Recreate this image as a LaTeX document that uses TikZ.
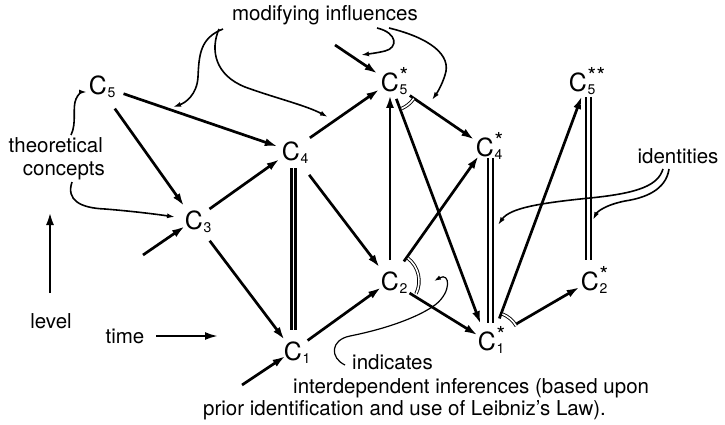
\documentclass[tikz,border=0pt]{standalone}
\usepackage{fontspec}
\setmainfont{TeX Gyre Heros}
\usetikzlibrary{arrows.meta,calc}
\newcommand\Cn[2]{C\rlap{\kern0.5pt\raisebox{-3.5pt}[0pt][0pt]{\fontsize{14}{14}\selectfont #1}}\rlap{\kern0.5pt\raisebox{8pt}[0pt][0pt]{\fontsize{22}{22}\selectfont #2}}}
\begin{document}
\begin{tikzpicture}[x=1pt,y=1pt,
  cn/.style={inner sep=0pt, font=\fontsize{25}{25}\selectfont},
  txt/.style={inner sep=0pt, font=\fontsize{20.5}{24}\selectfont},
  arr/.style={line width=2.7pt, -{Latex[length=13pt,width=8pt]}},
  note/.style={line width=1.6pt, -{Latex[length=8pt,width=5pt]}},
  idd/.style={double, line width=1.9pt, double distance=2.5pt},
  iddthick/.style={double, line width=3pt, double distance=1pt},
  arcd/.style={double, line width=0.9pt, double distance=1.6pt},
]
\useasboundingbox (0,0) rectangle (725,-425);
\fill[white] (0,0) rectangle (725,-425);

% concept nodes
\node[cn] (C5)   at (98,-85)  {\Cn{5}{}};
\node[cn] (C4)   at (291,-151) {\Cn{4}{}};
\node[cn] (C3)   at (194,-220) {\Cn{3}{}};
\node[cn] (C1)   at (293,-351) {\Cn{1}{}};
\node[cn] (C2)   at (390,-281) {\Cn{2}{}};
\node[cn] (C5s)  at (390,-82)  {\Cn{5}{*}};
\node[cn] (C4s)  at (485,-147) {\Cn{4}{*}};
\node[cn] (C1s)  at (487,-341) {\Cn{1}{*}};
\node[cn] (C2s)  at (590,-281) {\Cn{2}{*}};
\node[cn] (C5ss) at (578,-82)  {\Cn{5}{*\kern0.5pt*}};

% text
\node[txt, anchor=base] (mi) at (325,-21) {modifying influences};
\node[txt, anchor=base east] (tc1) at (103,-153) {theoretical};
\node[txt, anchor=base east] (tc2) at (105,-175) {concepts};
\node[txt, anchor=base] (idn) at (678,-163) {identities};
\node[txt, anchor=base] (lvl) at (51,-328) {level};
\node[txt, anchor=base] (tm) at (125,-343) {time};
\node[txt, anchor=base west] (ind) at (352,-369) {indicates};
\node[txt, anchor=base west] (ind2) at (293,-393) {interdependent inferences (based upon};
\node[txt, anchor=base west] (ind3) at (203,-415) {prior identification and use of Leibniz’s Law).};

% identities
\draw[iddthick] ($(C4)+(2,-17)$) -- ($(C1)+(0,21)$);
\draw[idd] ($(C4s)+(5.5,-11)$) -- ($(C1s)+(3.5,18)$);
\draw[idd] ($(C5ss)+(10.5,-15)$) -- ($(C2s)+(-1.5,21)$);

% inferences
\draw[arr, shorten <=27pt, shorten >=14pt] (C5.center) -- (C4.center);
\draw[arr, shorten <=29pt, shorten >=17pt] (C5.center) -- (C3.center);
\draw[arr, shorten <=19pt, shorten >=14pt] (C3.center) -- (C4.center);
\draw[arr, shorten <=26pt, shorten >=14pt] (C3.center) -- (C1.center);
\draw[arr, shorten <=23pt, shorten >=13pt] (C4.center) -- (C5s.center);
\draw[arr, shorten <=30pt, shorten >=17pt] (C4.center) -- (C2.center);
\draw[arr, shorten <=18pt, shorten >=11pt] (C1.center) -- (C2.center);
\draw[arr, shorten <=21pt, shorten >=13pt] (C2.center) -- (C5s.center);
\draw[arr, shorten <=24pt, shorten >=11pt] (C2.center) -- (C4s.center);
\draw[arr, shorten <=23pt, shorten >=11pt] (C2.center) -- (C1s.center);
\draw[arr, shorten <=24pt, shorten >=13pt] (C5s.center) -- (C4s.center);
\draw[arr, shorten <=18pt, shorten >=18pt] (C5s.center) -- (C1s.center);
\draw[arr, shorten <=24pt, shorten >=15pt] ($(C1s.center)+(4,0)$) -- ($(C5ss.center)+(9,0)$);
\draw[arr, shorten <=34pt, shorten >=12pt] (C1s.center) -- (C2s.center);

% external inputs
\coordinate (e3) at (143,-255);
\coordinate (e1) at (242,-385);
\coordinate (e5) at (335,-45);
\draw[arr, shorten >=11pt] (e3) -- (C3.center);
\draw[arr, shorten >=9pt] (e1) -- (C1.center);
\draw[arr, shorten >=15pt] (e5) -- (C5s.center);

% level / time
\coordinate (lv0) at (50,-293);
\coordinate (lv1) at (50,-212);
\coordinate (tm0) at (156,-336);
\coordinate (tm1) at (218,-336);
\draw[arr] (lv0) -- (lv1);
\draw[arr, line width=2.2pt] (tm0) -- (tm1);

% interdependence arcs
\draw[arcd] ($(C2)+(52:29)$) arc[start angle=52, end angle=-26, radius=29];
\draw[arcd] ($(C5s)+(-66:29)$) arc[start angle=-66, end angle=-35, radius=29];
\draw[arcd] ($(C1s)+(5,1)+(68:28)$) arc[start angle=68, end angle=30, radius=28];

% annotation arrows
\coordinate (m1a) at (223,-29); \coordinate (m1b) at (173,-107);
\coordinate (m2a) at (219,-29); \coordinate (m2b) at (328,-117);
\coordinate (m3a) at (377,-28); \coordinate (m3b) at (361,-55);
\coordinate (m4a) at (389,-28); \coordinate (m4b) at (432,-100);
\draw[note] (m1a) .. controls (200,-38) and (199,-55) .. (198,-77) .. controls (197,-95) and (185,-103) .. (m1b);
\draw[note] (m2a) .. controls (210,-50) and (215,-75) .. (245,-87) .. controls (275,-98) and (305,-105) .. (m2b);
\draw[note] (m3a) .. controls (398,-33) and (398,-48) .. (385,-51) .. controls (377,-53) and (368,-54) .. (m3b);
\draw[note] (m4a) .. controls (430,-38) and (452,-55) .. (445,-75) .. controls (442,-85) and (437,-93) .. (m4b);

\coordinate (t1a) at (71,-135); \coordinate (t1b) at (87,-92);
\coordinate (t2a) at (72,-182); \coordinate (t2b) at (175,-217);
\draw[note] (t1a) .. controls (77,-123) and (72,-108) .. (76,-99) .. controls (78,-94) and (82,-92) .. (t1b);
\draw[note] (t2a) .. controls (66,-200) and (80,-208) .. (105,-209) .. controls (130,-211) and (155,-214) .. (t2b);

\coordinate (i1a) at (663,-169); \coordinate (i1b) at (498,-225);
\coordinate (i2a) at (669,-169); \coordinate (i2b) at (593,-220);
\draw[note] (i1a) .. controls (658,-185) and (640,-193) .. (590,-198) .. controls (540,-203) and (510,-208) .. (i1b);
\draw[note] (i2a) .. controls (666,-190) and (645,-198) .. (625,-201) .. controls (605,-205) and (597,-212) .. (i2b);

\coordinate (n1a) at (345,-365); \coordinate (n1b) at (434,-281);
\draw[line width=1.2pt, -{Latex[length=7pt,width=4.5pt]}] (n1a) .. controls (330,-358) and (330,-340) .. (350,-336) .. controls (390,-328) and (420,-316) .. (435,-305) .. controls (452,-292) and (450,-272) .. (n1b);
\end{tikzpicture}
\end{document}
